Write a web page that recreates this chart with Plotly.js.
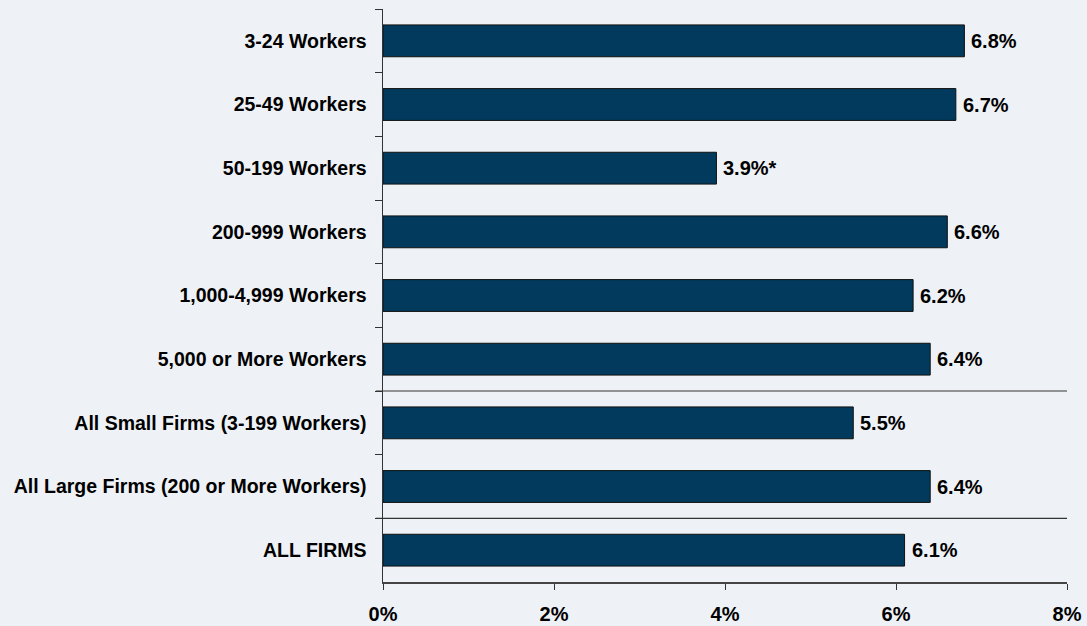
<!DOCTYPE html>
<html>
<head>
<meta charset="utf-8">
<script src="https://cdn.plot.ly/plotly-3.0.1.min.js"></script>
<style>
  html, body { margin: 0; padding: 0; background: #EEF2F6; }
  #chart { width: 1087px; height: 626px; }
</style>
</head>
<body>
<div id="chart"></div>
<script>
const categories = [
  "3-24 Workers",
  "25-49 Workers",
  "50-199 Workers",
  "200-999 Workers",
  "1,000-4,999 Workers",
  "5,000 or More Workers",
  "All Small Firms (3-199 Workers)",
  "All Large Firms (200 or More Workers)",
  "ALL FIRMS"
];
const values = [6.8, 6.7, 3.9, 6.6, 6.2, 6.4, 5.5, 6.4, 6.1];
const valueLabels = ["6.8%", "6.7%", "3.9%*", "6.6%", "6.2%", "6.4%", "5.5%", "6.4%", "6.1%"];
const xTickValues = [0, 2, 4, 6, 8];
const xTickLabels = ["0%", "2%", "4%", "6%", "8%"];
const separatorsAfter = [5, 7]; // separator lines below these category indices

const font = "Arial";

const trace = {
  type: "bar",
  orientation: "h",
  y: categories,
  x: values,
  width: 0.5,
  marker: { color: "#013A5C", line: { color: "#111111", width: 1 } },
  hoverinfo: "skip"
};

const annotations = categories.map((c, i) => ({
  x: values[i], y: c, xref: "x", yref: "y",
  text: valueLabels[i], showarrow: false,
  xanchor: "left", yanchor: "middle", xshift: 5,
  font: { family: font, size: 20, color: "#000000", weight: "bold" }
}));

const shapes = separatorsAfter.map(i => ({
  type: "line", xref: "paper", yref: "y",
  x0: -0.0105, x1: 1, y0: i + 0.5, y1: i + 0.5,
  line: { color: "#333333", width: 1.2 }
}));

const layout = {
  width: 1087, height: 626,
  paper_bgcolor: "#EEF2F6",
  plot_bgcolor: "#EEF2F6",
  font: { family: font },
  margin: { l: 383, r: 20, t: 9, b: 44 },
  showlegend: false,
  xaxis: {
    range: [0, 8],
    tickvals: xTickValues,
    ticktext: xTickLabels,
    ticks: "outside",
    ticklen: 6,
    tickcolor: "#333333",
    showline: true,
    linecolor: "#444444",
    linewidth: 1.5,
    showgrid: false,
    zeroline: false,
    tickfont: { family: font, size: 20, color: "#000000", weight: "bold" },
    ticklabelstandoff: 7,
    fixedrange: true
  },
  yaxis: {
    type: "category",
    autorange: "reversed",
    ticks: "outside",
    tickson: "boundaries",
    ticklen: 7,
    tickcolor: "#333333",
    showline: true,
    linecolor: "#333333",
    linewidth: 1.5,
    showgrid: false,
    zeroline: false,
    tickfont: { family: font, size: 19.5, color: "#000000", weight: "bold" },
    ticklabelstandoff: 11,
    fixedrange: true
  },
  shapes: shapes,
  annotations: annotations
};

Plotly.newPlot("chart", [trace], layout, { displayModeBar: false, staticPlot: true });
</script>
</body>
</html>
